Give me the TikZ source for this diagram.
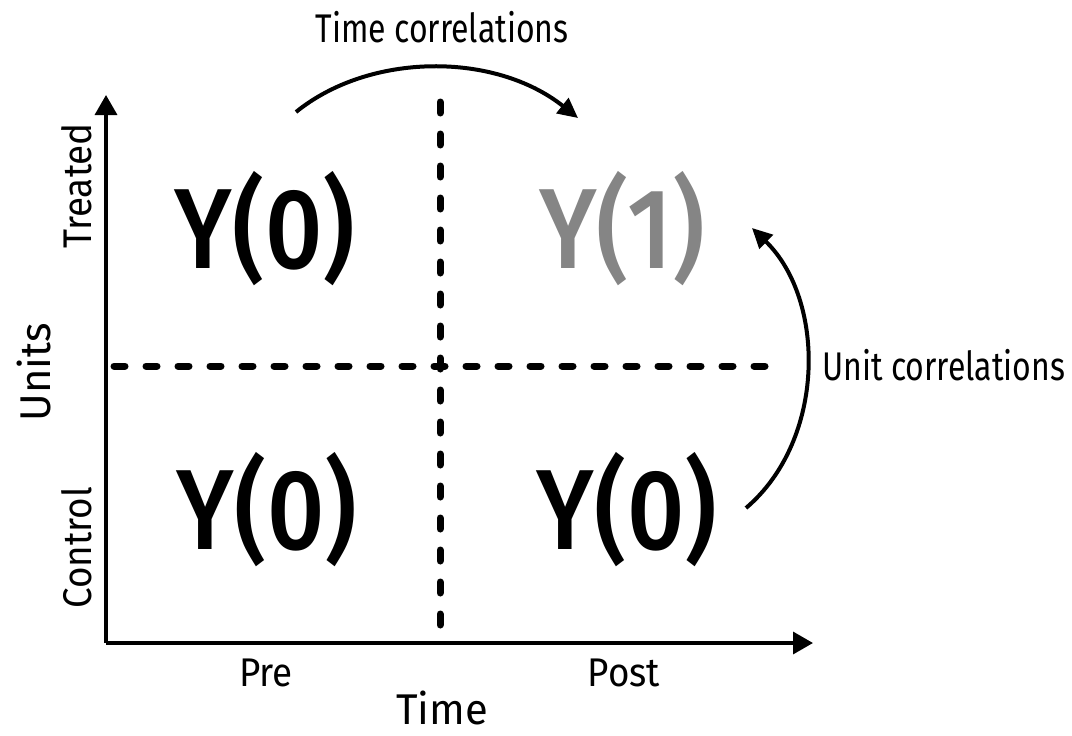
\documentclass[tikz,border=0pt]{standalone}
\usepackage{fontspec}
\setmainfont{Fira Sans}
\newfontfamily\outfont{Fira Sans Medium}[FakeStretch=0.88]
\newfontfamily\corrfont{Fira Sans}[FakeStretch=0.8]
\newfontfamily\labfont{Fira Sans}[FakeStretch=0.92]
\newfontfamily\ttlfont{Fira Sans}[FakeStretch=0.97]
\usepackage{tikz}
\usetikzlibrary{arrows.meta,positioning,calc}
\definecolor{outgray}{HTML}{858585}

\begin{document}
\begin{tikzpicture}[
  x=1pt,y=-1pt,
  lbl/.style={font=\labfont\fontsize{40}{44}\selectfont,inner sep=0pt,anchor=base},
  clbl/.style={font=\corrfont\fontsize{40}{44}\selectfont,inner sep=0pt,anchor=base},
  ttl/.style={font=\ttlfont\fontsize{43}{46}\selectfont,inner sep=0pt,anchor=base},
  outc/.style={font=\outfont\fontsize{114}{120}\selectfont,inner sep=0pt},
  axis/.style={line width=3.5pt,-{Triangle[length=20pt,width=22pt]}},
  split/.style={line width=7pt,line cap=round,dash pattern=on 11pt off 21pt},
  corr/.style={line width=4pt,-{Triangle[length=20pt,width=19pt]}}]
\useasboundingbox (0,0) rectangle (1072,736);
% axes
\coordinate (orig) at (106,643);
\coordinate (ytip) at (106,95);
\coordinate (xtip) at (813,643);
\draw[axis] (orig) -- (ytip);
\draw[axis] (orig) -- (xtip);
% quadrant split
\coordinate (vtop) at (440,102);
\coordinate (vbot) at (440,632);
\coordinate (hleft) at (114,366);
\coordinate (hright) at (782,366);
\draw[split] (vtop) -- (vbot);
\draw[split] (hleft) -- (hright);
% outcomes
\node[outc] (tpre) at (265,229) {Y(0)};
\node[outc,text=outgray] (tpost) at (622,229) {Y(1)};
\node[outc] (cpre) at (267,510) {Y(0)};
\node[outc] (cpost) at (627,510) {Y(0)};
% axis labels
\node[lbl] (pre) at (266,686) {Pre};
\node[lbl] (post) at (624,686) {Post};
\node[ttl] (time) at (442,724) {Time};
\node[lbl,rotate=90] (treated) at (91,186) {Treated};
\node[lbl,rotate=90] (control) at (91,548) {Control};
\node[ttl,rotate=90] (units) at (50,372) {Units};
% correlations
\node[clbl] (tcorr) at (442,42) {Time correlations};
\node[clbl,anchor=base west] (ucorr) at (822,380) {Unit correlations};
\coordinate (tfrom) at (296,112);
\coordinate (tto) at (578,118);
\coordinate (ufrom) at (746,508);
\coordinate (uto) at (752,228);
\draw[corr] (tfrom) .. controls (370,52) and (495,52) .. (tto);
\draw[corr] (ufrom) .. controls (826,440) and (826,300) .. (uto);
\end{tikzpicture}
\end{document}
